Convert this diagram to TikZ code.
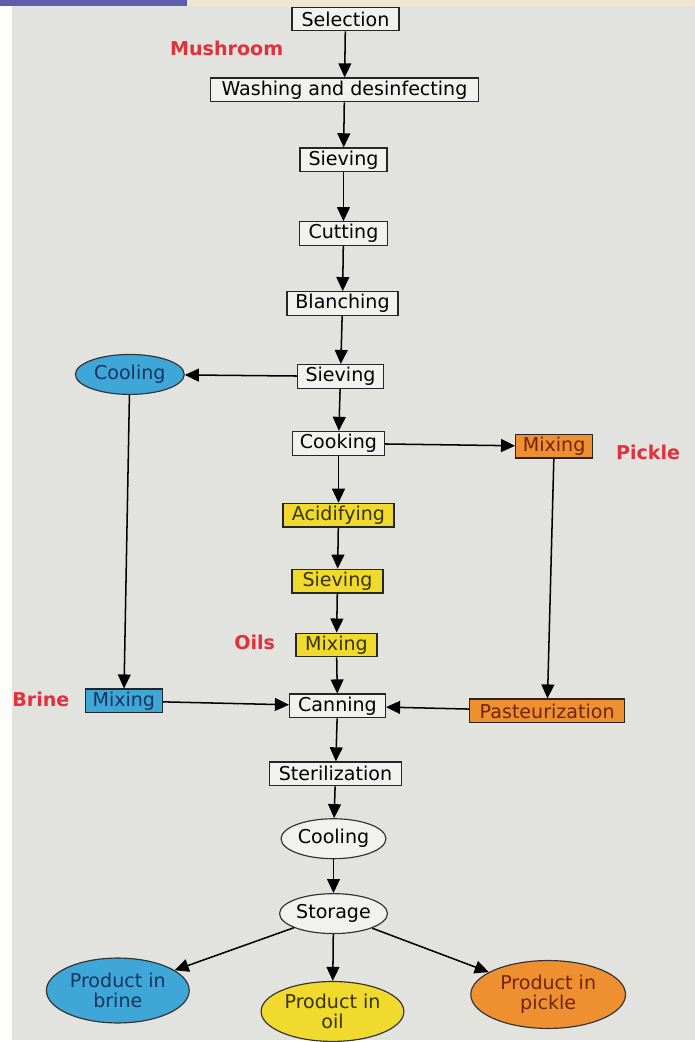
\documentclass[tikz,border=0pt]{standalone}
\usepackage{fontspec}
\setmainfont{DejaVu Sans}
\usetikzlibrary{shapes.geometric,arrows.meta}
\definecolor{bgc}{HTML}{E2E2DE}
\definecolor{boxc}{HTML}{F1F1EF}
\definecolor{bluec}{HTML}{3FA6D8}
\definecolor{bluet}{HTML}{17345F}
\definecolor{yelc}{HTML}{F0DA2E}
\definecolor{yelt}{HTML}{3A3200}
\definecolor{orac}{HTML}{EF9030}
\definecolor{orat}{HTML}{6E2410}
\definecolor{redc}{HTML}{E0323C}
\definecolor{beigec}{HTML}{F3E6D0}
\definecolor{purplec}{HTML}{5B5FAE}
\begin{document}
\begin{tikzpicture}[x=0.03cm,y=-0.03cm,
  every node/.style={font=\fontsize{16.3}{17.5}\selectfont},
  stepbox/.style={draw=black!85,line width=1.1pt,fill=boxc,minimum height=0.71cm,inner ysep=1pt,inner xsep=2pt},
  ovalbox/.style={ellipse,draw=black!80,line width=1pt,fill=boxc,inner sep=0pt},
  bluebox/.style={stepbox,fill=bluec,text=bluet},
  yelbox/.style={stepbox,fill=yelc,text=yelt},
  orabox/.style={stepbox,fill=orac,text=orat},
  lab/.style={text=redc,font=\fontsize{16.3}{17.5}\selectfont\bfseries},
  arr/.style={line width=1.3pt,-{Triangle[length=12pt,width=11pt]}}]
\fill[bgc] (0,0) rectangle (696,1042);
\fill[white!92!bgc] (0,0) rectangle (12,1042);
\fill[beigec] (187,0) rectangle (696,6);
\fill[purplec] (0,0) rectangle (187,6);
% main column
\node[stepbox,minimum width=3.21cm] (sel) at (346,19) {Selection};
\node[stepbox,minimum width=8.04cm] (wash) at (345,90) {Washing and desinfecting};
\node[stepbox,minimum width=2.61cm] (siev1) at (344,160) {Sieving};
\node[stepbox,minimum width=2.64cm] (cut) at (344,234) {Cutting};
\node[stepbox,minimum width=3.33cm] (blan) at (343,304) {Blanching};
\node[stepbox,minimum width=2.58cm] (siev2) at (341,377) {Sieving};
\node[stepbox,minimum width=2.76cm] (cook) at (339,444) {Cooking};
\node[yelbox,minimum width=3.33cm] (acid) at (339,516) {Acidifying};
\node[yelbox,minimum width=2.73cm] (siev3) at (338,582) {Sieving};
\node[yelbox,minimum width=2.43cm] (mixy) at (337,646) {Mixing};
\node[stepbox,minimum width=2.88cm] (can) at (338,707) {Canning};
\node[stepbox,minimum width=3.96cm] (ster) at (336,775) {Sterilization};
\node[ovalbox,minimum width=3.15cm,minimum height=1.2cm] (cool2) at (334,840) {Cooling};
\node[ovalbox,minimum width=3.24cm,minimum height=1.2cm] (stor) at (334,915) {Storage};
% side branches
\node[ovalbox,fill=bluec,text=bluet,minimum width=3.27cm,minimum height=1.2cm] (cool1) at (130,375) {Cooling};
\node[bluebox,minimum width=2.31cm] (mixb) at (124,702) {Mixing};
\node[orabox,minimum width=2.31cm] (mixo) at (555,447) {Mixing};
\node[orabox,minimum width=4.65cm] (past) at (548,712) {Pasteurization};
% products
\node[ovalbox,fill=bluec,text=bluet,align=center,minimum width=4.29cm,minimum height=1.95cm] (pb) at (118,992) {Product in\\brine};
\node[ovalbox,fill=yelc,text=yelt,align=center,minimum width=4.29cm,minimum height=1.8cm] (po) at (333,1013) {Product in\\oil};
\node[ovalbox,fill=orac,text=orat,align=center,minimum width=4.65cm,minimum height=2.04cm] (pp) at (549,996) {Product in\\pickle};
% labels
\node[lab] (lmush) at (227,48) {Mushroom};
\node[lab] (lpick) at (649,453) {Pickle};
\node[lab] (loils) at (255,643) {Oils};
\node[lab] (lbrine) at (41,700) {Brine};
% connectors
\draw[arr] (sel) -- (wash);
\draw[arr] (wash) -- (siev1);
\draw[arr] (siev1) -- (cut);
\draw[arr] (cut) -- (blan);
\draw[arr] (blan) -- (siev2);
\draw[arr] (siev2) -- (cool1);
\draw[arr] (siev2) -- (cook);
\draw[arr] (cook) -- (mixo);
\draw[arr] (cook) -- (acid);
\draw[arr] (acid) -- (siev3);
\draw[arr] (siev3) -- (mixy);
\draw[arr] (mixy) -- (can);
\draw[arr] (cool1) -- (mixb);
\draw[arr] (mixb) -- (can);
\draw[arr] (mixo) -- (past);
\draw[arr] (past) -- (can);
\draw[arr] (can) -- (ster);
\draw[arr] (ster) -- (cool2);
\draw[arr] (cool2) -- (stor);
\draw[arr] (stor) -- (pb);
\draw[arr] (stor) -- (po);
\draw[arr] (stor) -- (pp);
\end{tikzpicture}
\end{document}
